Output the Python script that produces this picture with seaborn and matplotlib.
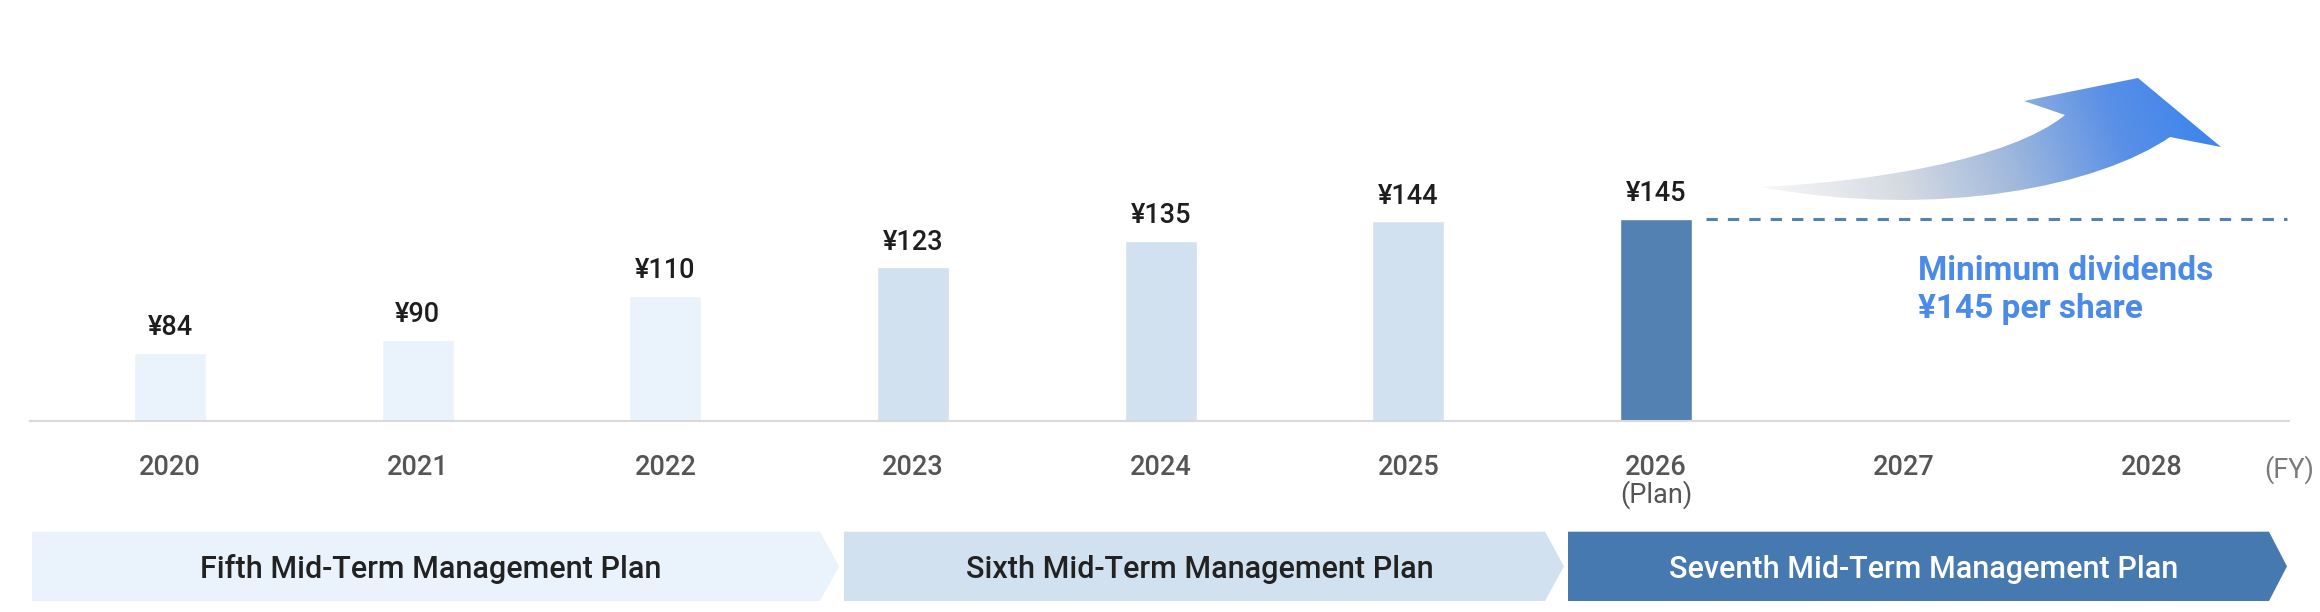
import numpy as np
import pandas as pd
import matplotlib
matplotlib.use("Agg")
import matplotlib.pyplot as plt
import seaborn as sns
from matplotlib.patches import Polygon, PathPatch
from matplotlib.path import Path
from matplotlib.colors import LinearSegmentedColormap

# data
fiscal_years = ["2020", "2021", "2022", "2023", "2024", "2025", "2026", "2027", "2028"]
dividend_years = ["2020", "2021", "2022", "2023", "2024", "2025", "2026"]
dividends = [84, 90, 110, 123, 135, 144, 145]
bar_colors = ["#EAF2FB", "#EAF2FB", "#EAF2FB", "#D2E1F0", "#D2E1F0", "#D2E1F0", "#5381B2"]
minimum_dividend = 145
plan_names = ["Fifth Mid-Term Management Plan",
              "Sixth Mid-Term Management Plan",
              "Seventh Mid-Term Management Plan"]
plan_colors = ["#EAF2FB", "#D2E1F0", "#4679B0"]
plan_text_colors = ["#222222", "#222222", "#FFFFFF"]

W, H = 2320, 612
sns.set_theme(style="white")
plt.rcParams["font.family"] = ["Roboto", "DejaVu Sans"]

fig = plt.figure(figsize=(W / 100, H / 100), dpi=100)


def fx(px):
    return px / W


def fy(py):
    return 1 - py / H


# pixel space layer for the banners and the arrow
deco = fig.add_axes([0, 0, 1, 1], zorder=0)
deco.set_xlim(0, W)
deco.set_ylim(H, 0)
deco.axis("off")

base_y = 420.7
ax = fig.add_axes([fx(30), fy(base_y), fx(2289 - 30), base_y / H], zorder=1)
ax.patch.set_alpha(0)

df = pd.DataFrame({"fy": dividend_years, "dividend": dividends})
sns.barplot(data=df, x="fy", y="dividend", hue="fy", order=fiscal_years,
            palette=dict(zip(dividend_years, bar_colors)), saturation=1,
            width=0.29, legend=False, ax=ax)

ax.set_xlim(-0.5653, 8.556)
ax.set_ylim(53, 53 + base_y / 2.19)
for s in ["top", "left", "right"]:
    ax.spines[s].set_visible(False)
ax.spines["bottom"].set_color("#d9d9d9")
ax.spines["bottom"].set_linewidth(1.5)
ax.set_yticks([])
ax.set_xlabel("")
ax.set_ylabel("")
ax.set_xticks(range(len(fiscal_years)))
ax.set_xticklabels(fiscal_years, fontsize=19.5, color="#555555", fontweight="medium")
ax.tick_params(axis="x", length=0, pad=24)

for c in ax.containers:
    ax.bar_label(c, labels=[f"¥{v:.0f}" for v in c.datavalues], padding=8.5,
                 fontsize=19.5, fontweight="medium", color="#1e1e1e")

# minimum dividend line
ax.hlines(minimum_dividend, 6.2017, 8.548, colors="#5381B2",
          linestyles=(0, (3.7, 3.3)), lw=2.2, clip_on=False)

fig.text(fx(1918), fy(280), "Minimum dividends", fontsize=24, fontweight="bold",
         color="#4A8AE8", ha="left", va="baseline")
fig.text(fx(1918), fy(318), f"¥{minimum_dividend} per share", fontsize=24,
         fontweight="bold", color="#4A8AE8", ha="left", va="baseline")

fig.text(fx(1656), fy(503), "(Plan)", fontsize=19.5, color="#555555",
         ha="center", va="baseline")
fig.text(fx(2289.5), fy(478), "(FY)", fontsize=19.5, color="#7a7a7a",
         ha="center", va="baseline")

# plan banners
spans = [(32, 820, 839), (844, 1545, 1564), (1568, 2269, 2287)]
top, bot = 531.7, 601
for (x0, x1, tip), name, col, tcol in zip(spans, plan_names, plan_colors, plan_text_colors):
    deco.add_patch(Polygon([(x0, top), (x1, top), (tip, (top + bot) / 2), (x1, bot), (x0, bot)],
                           closed=True, facecolor=col, edgecolor="none"))
    deco.text((x0 + x1) / 2 + 5, 578, name, fontsize=22, fontweight="medium",
              color=tcol, ha="center", va="baseline")

# gradient arrow
verts = [(1761, 187), (1870, 182), (2010, 160), (2065, 115),
         (2024, 101), (2138, 78), (2221, 147), (2170, 137),
         (2100, 185), (1940, 220), (1761, 187), (1761, 187)]
codes = [Path.MOVETO, Path.CURVE4, Path.CURVE4, Path.CURVE4,
         Path.LINETO, Path.LINETO, Path.LINETO, Path.LINETO,
         Path.CURVE4, Path.CURVE4, Path.CURVE4, Path.CLOSEPOLY]
arrow = PathPatch(Path(verts, codes), facecolor="none", edgecolor="none")
deco.add_patch(arrow)
xs = np.linspace(1750, 2230, 400)
ys = np.linspace(70, 225, 150)
X, Y = np.meshgrid(xs, ys)
t = np.clip(((X - 1761) - 0.35 * (Y - 187)) / 470, 0, 1)
cmap = LinearSegmentedColormap.from_list(
    "arr", [(0, "#f7f7f8"), (0.3, "#d5dae2"), (0.55, "#9fb8dc"), (0.8, "#5a90e6"), (1, "#3d85ee")])
im = deco.imshow(t, cmap=cmap, vmin=0, vmax=1, extent=(1750, 2230, 70, 225),
                 origin="lower", aspect="auto", interpolation="bilinear")
im.set_clip_path(arrow)
deco.set_xlim(0, W)
deco.set_ylim(H, 0)

fig.savefig("out.png", dpi=100, facecolor="white")
